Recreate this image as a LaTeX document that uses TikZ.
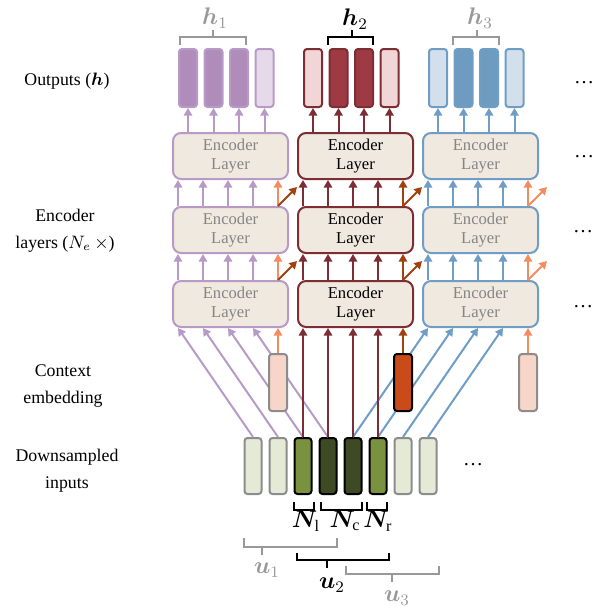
\documentclass[tikz,border=0pt]{standalone}
\usepackage{fontspec}
\setmainfont{Liberation Serif}
\usepackage{amsmath}
\usepackage{bm}
\usetikzlibrary{arrows.meta, positioning}

\definecolor{encfill}{HTML}{F0E9DF}
\definecolor{purp}{HTML}{B79BC6}
\definecolor{purpdark}{HTML}{AF8CB9}
\definecolor{purplight}{HTML}{E6D9EA}
\definecolor{wine}{HTML}{7D2D34}
\definecolor{winedark}{HTML}{9E3A44}
\definecolor{winelight}{HTML}{F0D6D6}
\definecolor{sky}{HTML}{6F9DC6}
\definecolor{skydark}{HTML}{6E9BC0}
\definecolor{skylight}{HTML}{D3E0EC}
\definecolor{ctxline}{HTML}{F48C5F}
\definecolor{ctxlight}{HTML}{F7D5C8}
\definecolor{ctxdark}{HTML}{C84B19}
\definecolor{ctxdeep}{HTML}{A0410F}
\definecolor{grnlight}{HTML}{E4EAD6}
\definecolor{grnmid}{HTML}{7A9140}
\definecolor{grndark}{HTML}{3E4A24}
\definecolor{rim}{HTML}{8C8C8C}
\definecolor{brk}{HTML}{999999}
\definecolor{dim}{HTML}{858585}

\begin{document}
\begin{tikzpicture}[
    x=0.5pt, y=-0.5pt,
    enc/.style={draw, line width=1pt, rounded corners=4pt, fill=encfill, minimum width=57.5pt, minimum height=23pt, inner sep=0pt, align=center, font=\fontsize{8.3}{9.6}\selectfont},
    vec/.style={draw, line width=1pt, rounded corners=1.5pt, minimum width=9pt, minimum height=29pt, inner sep=0pt},
    side/.style={align=center, font=\fontsize{8.9}{13.5}\selectfont},
    sym/.style={font=\fontsize{11.5}{13}\selectfont},
    flow/.style={->, line width=1pt},
    brace/.style={line width=1pt},
    >={Triangle[width=4.2pt, length=3.8pt]},
]
\useasboundingbox (0,0) rectangle (608,611);

% labels on the left
\node[side] (lout) at (67,81) {Outputs~($\bm{h}$)};
\node[side] (llay) at (65,231) {Encoder\\layers~($N_e\,\times$)};
\node[side] (lctx) at (63,386) {Context\\embedding};
\node[side] (lin) at (67,471) {Downsampled\\inputs};

% encoder stacks
\node[enc, draw=purp, text=dim] (e11) at (230.5,304) {Encoder\\Layer};
\node[enc, draw=purp, text=dim, above=13pt of e11] (e12) {Encoder\\Layer};
\node[enc, draw=purp, text=dim, above=13pt of e12] (e13) {Encoder\\Layer};
\node[enc, draw=wine] (e21) at (355.5,304) {Encoder\\Layer};
\node[enc, draw=wine, above=13pt of e21] (e22) {Encoder\\Layer};
\node[enc, draw=wine, above=13pt of e22] (e23) {Encoder\\Layer};
\node[enc, draw=sky, text=dim] (e31) at (480.5,304) {Encoder\\Layer};
\node[enc, draw=sky, text=dim, above=13pt of e31] (e32) {Encoder\\Layer};
\node[enc, draw=sky, text=dim, above=13pt of e32] (e33) {Encoder\\Layer};

% outputs
\node[vec, draw=purp, fill=purpdark] (o11) at (188,78) {};
\node[vec, draw=purp, fill=purpdark] (o12) at (213.5,78) {};
\node[vec, draw=purp, fill=purpdark] (o13) at (239,78) {};
\node[vec, draw=purp, fill=purplight] (o14) at (264.5,78) {};
\node[vec, draw=wine, fill=winelight] (o21) at (313,78) {};
\node[vec, draw=wine, fill=winedark] (o22) at (338.5,78) {};
\node[vec, draw=wine, fill=winedark] (o23) at (364,78) {};
\node[vec, draw=wine, fill=winelight] (o24) at (389.5,78) {};
\node[vec, draw=sky, fill=skylight] (o31) at (438,78) {};
\node[vec, draw=sky, fill=skydark] (o32) at (463.5,78) {};
\node[vec, draw=sky, fill=skydark] (o33) at (489,78) {};
\node[vec, draw=sky, fill=skylight] (o34) at (514.5,78) {};

% downsampled inputs
\node[vec, draw=rim, fill=grnlight, minimum width=8.5pt, minimum height=28pt] (in1) at (253,466) {};
\node[vec, draw=rim, fill=grnlight, minimum width=8.5pt, minimum height=28pt] (in2) at (278,466) {};
\node[vec, draw=black, fill=grnmid, minimum width=8.5pt, minimum height=28pt] (in3) at (303,466) {};
\node[vec, draw=black, fill=grndark, minimum width=8.5pt, minimum height=28pt] (in4) at (328,466) {};
\node[vec, draw=black, fill=grndark, minimum width=8.5pt, minimum height=28pt] (in5) at (353,466) {};
\node[vec, draw=black, fill=grnmid, minimum width=8.5pt, minimum height=28pt] (in6) at (378,466) {};
\node[vec, draw=rim, fill=grnlight, minimum width=8.5pt, minimum height=28pt] (in7) at (403,466) {};
\node[vec, draw=rim, fill=grnlight, minimum width=8.5pt, minimum height=28pt] (in8) at (428,466) {};

% inputs into the first layer
\foreach \k/\x in {1/178, 2/203, 3/228, 4/253}
    \draw[flow, purp] (in\k.north) -- (\x,0 |- e11.south);
\foreach \k/\x in {5/428, 6/453, 7/478, 8/503}
    \draw[flow, sky] (in\k.north) -- (\x,0 |- e31.south);
\foreach \k in {3,...,6}
    \draw[flow, wine] (in\k.north) -- (in\k.north |- e21.south);

% context embeddings
\node[vec, draw=rim, fill=ctxlight, minimum height=28.5pt] (c1) at (278,382.5) {};
\node[vec, draw=black, fill=ctxdark, minimum height=28.5pt] (c2) at (403,382.5) {};
\node[vec, draw=rim, fill=ctxlight, minimum height=28.5pt] (c3) at (528,382.5) {};
\draw[flow, ctxline] (c1) -- (c1 |- e11.south);
\draw[flow, ctxdeep] (c2) -- (c2 |- e21.south);
\draw[flow, ctxline] (c3) -- (c3 |- e31.south);

% between layers
\foreach \bx/\lc/\cc/\dc/\g in {178/purp/ctxline/ctxdeep/1, 303/wine/ctxdeep/ctxdeep/2, 428/sky/ctxline/ctxline/3}{
    \foreach \lo/\hi in {1/2, 2/3}{
        \foreach \k in {0,...,3}
            \draw[flow, \lc] (\bx+25*\k,0 |- e\g\lo.north) -- (\bx+25*\k,0 |- e\g\hi.south);
        \draw[flow, \cc] (\bx+100,0 |- e\g\lo.north) -- (\bx+100,0 |- e\g\hi.south);
        \draw[flow, \dc] (\bx+100,0 |- e\g\lo.north) -- ++(19,-19);
    }
    \foreach \o in {1,...,4}
        \draw[flow, \lc] (o\g\o |- e\g3.north) -- (o\g\o);
}

% output braces
\draw[brace, brk] (180,45) -- (180,37) -- (246,37) -- (246,45) (213,37) -- (213,30);
\draw[brace] (328,45) -- (328,37) -- (373,37) -- (373,45) (352,37) -- (352,30);
\draw[brace, brk] (453,45) -- (453,37) -- (499,37) -- (499,45) (477,37) -- (477,30);
\node[sym, brk] (h1) at (215,18) {$\bm{h}_1$};
\node[sym] (h2) at (355,19) {$\bm{h}_2$};
\node[sym, brk] (h3) at (480,18) {$\bm{h}_3$};

% chunk braces
\draw[brace] (294,502) -- (294,510) -- (314,510) -- (314,502);
\draw[brace] (321,502) -- (321,510) -- (362,510) -- (362,502);
\draw[brace] (367,502) -- (367,510) -- (387,510) -- (387,502);
\node[sym] (nl) at (306,521) {$\bm{N}_{\mathrm{l}}$};
\node[sym] (nc) at (345,521) {$\bm{N}_{\mathrm{c}}$};
\node[sym] (nr) at (378,521) {$\bm{N}_{\mathrm{r}}$};

\draw[brace, brk] (244,538) -- (244,547) -- (337,547) -- (337,538) (262,547) -- (262,555);
\draw[brace] (297,553) -- (297,560) -- (389,560) -- (389,553) (327,560) -- (327,568);
\draw[brace, brk] (346,566) -- (346,574) -- (439,574) -- (439,566) (392,574) -- (392,582);
\node[sym, brk] (u1) at (267,570) {$\bm{u}_1$};
\node[sym] (u2) at (332,585) {$\bm{u}_2$};
\node[sym, brk] (u3) at (397,598) {$\bm{u}_3$};

% continuation dots
\node[font=\fontsize{10}{12}\selectfont] (d1) at (584,83) {…};
\node[font=\fontsize{10}{12}\selectfont] (d2) at (584,157) {…};
\node[font=\fontsize{10}{12}\selectfont] (d3) at (583,232) {…};
\node[font=\fontsize{10}{12}\selectfont] (d4) at (583,307) {…};
\node[font=\fontsize{10}{12}\selectfont] (d5) at (473,465) {…};
\end{tikzpicture}
\end{document}
